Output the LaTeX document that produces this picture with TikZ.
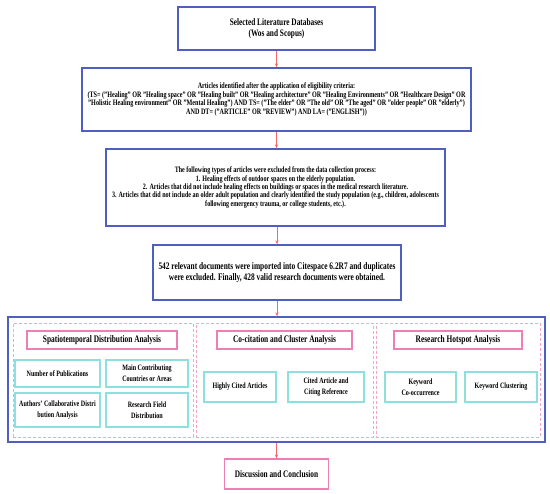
\documentclass[tikz,border=0pt]{standalone}
\usepackage{fontspec}
\setmainfont{Liberation Serif}[FakeStretch=0.74]
\usetikzlibrary{arrows.meta}
\definecolor{bblue}{HTML}{4F5FBF}
\definecolor{bpink}{HTML}{EE7FB5}
\definecolor{dpink}{HTML}{F5A6CA}
\definecolor{bcyan}{HTML}{8EE0E0}
\definecolor{arred}{HTML}{F06A6A}
\tikzset{
  bluebox/.style={draw=bblue, line width=1.4pt, inner sep=0pt, align=center, font=\bfseries},
  pinkbox/.style={draw=bpink, line width=1.1pt, inner sep=0pt, align=center, font=\bfseries\fontsize{10}{11}\selectfont},
  dashbox/.style={draw=dpink, line width=0.8pt, dashed, dash pattern=on 3pt off 2pt, inner sep=0pt},
  cyanbox/.style={draw=bcyan, line width=1.1pt, inner sep=0pt, align=center, font=\bfseries\fontsize{8.2}{11}\selectfont},
  arr/.style={draw=arred, line width=0.7pt, -{Stealth[length=4pt,width=3.2pt]}},
}
\begin{document}
\begin{tikzpicture}[x=1pt,y=-1pt]
\useasboundingbox[fill=white] (0,0) rectangle (550,494);
\node[bluebox, minimum width=197pt, minimum height=43pt, font=\bfseries\fontsize{9.9}{11}\selectfont] (b1) at (276.5,28.5)
  {Selected Literature Databases\\(Wos and Scopus)};
\node[bluebox, minimum width=389pt, minimum height=63pt, font=\bfseries\fontsize{8.3}{8.6}\selectfont] (b2) at (276.5,99.5)
  {Articles identified after the application of eligibility criteria:\\
  (TS= ("Healing" OR "Healing space" OR "Healing built" OR "Healing architecture" OR "Healing Environments" OR "Healthcare Design" OR\\
  "Holistic Healing environment" OR "Mental Healing") AND TS= ("The elder" OR "The old" OR "The aged" OR "older people" OR "elderly")\\
  AND DT= ("ARTICLE" OR "REVIEW") AND LA= ("ENGLISH"))};
\node[bluebox, minimum width=339pt, minimum height=77pt, font=\bfseries\fontsize{8.2}{8.4}\selectfont] (b3) at (275.5,187.5)
  {The following types of articles were excluded from the data collection process:\\
  1. Healing effects of outdoor spaces on the elderly population.\\
  2. Articles that did not include healing effects on buildings or spaces in the medical research literature.\\
  3. Articles that did not include an older adult population and clearly identified the study population (e.g., children, adolescents\\
  following emergency trauma, or college students, etc.).};
\node[bluebox, minimum width=248pt, minimum height=55pt, font=\bfseries\fontsize{10}{11.5}\selectfont] (b4) at (277,272.5)
  {542 relevant documents were imported into Citespace 6.2R7 and duplicates\\were excluded. Finally, 428 valid research documents were obtained.};
\node[bluebox, minimum width=537pt, minimum height=125pt] (big) at (276.5,379.5) {};
\node[dashbox, minimum width=180pt, minimum height=114pt] (d1) at (103,380) {};
\node[dashbox, minimum width=177pt, minimum height=114pt] (d2) at (284.5,380) {};
\node[dashbox, minimum width=164pt, minimum height=114pt] (d3) at (458,380) {};
\node[pinkbox, minimum width=150pt, minimum height=18pt] (t1) at (102,340) {Spatiotemporal Distribution Analysis};
\node[pinkbox, minimum width=135pt, minimum height=18pt] (t2) at (284.5,340) {Co-citation and Cluster Analysis};
\node[pinkbox, minimum width=128pt, minimum height=18pt] (t3) at (458,340) {Research Hotspot Analysis};
\node[cyanbox, minimum width=85pt, minimum height=27pt] (c11) at (57.5,373.5) {Number of Publications};
\node[cyanbox, minimum width=82pt, minimum height=27pt] (c12) at (147,373.5) {Main Contributing\\Countries or Areas};
\node[cyanbox, minimum width=85pt, minimum height=34pt] (c21) at (57.5,410) {Authors' Collaborative Distri\\bution Analysis};
\node[cyanbox, minimum width=82pt, minimum height=34pt] (c22) at (147,410) {Research Field\\Distribution};
\node[cyanbox, minimum width=72pt, minimum height=30pt] (m1) at (240,387) {Highly Cited Articles};
\node[cyanbox, minimum width=76pt, minimum height=30pt] (m2) at (326,387) {Cited Article and\\Citing Reference};
\node[cyanbox, minimum width=71pt, minimum height=30pt] (r1) at (420.5,387) {Keyword\\Co-occurrence};
\node[cyanbox, minimum width=72pt, minimum height=30pt] (r2) at (501,387) {Keyword Clustering};
\node[pinkbox, minimum width=104pt, minimum height=30pt, font=\bfseries\fontsize{9.9}{11}\selectfont] (fin) at (276.5,474) {Discussion and Conclusion};
\draw[arr] (b1.south) -- (b1.south |- b2.north);
\draw[arr] (b2.south) -- (b2.south |- b3.north);
\draw[arr] (b3.south -| b4.north) -- (b4.north);
\draw[arr] (b4.south) -- (b4.south |- big.north);
\draw[arr] (big.south) -- (fin.north);
\end{tikzpicture}
\end{document}
